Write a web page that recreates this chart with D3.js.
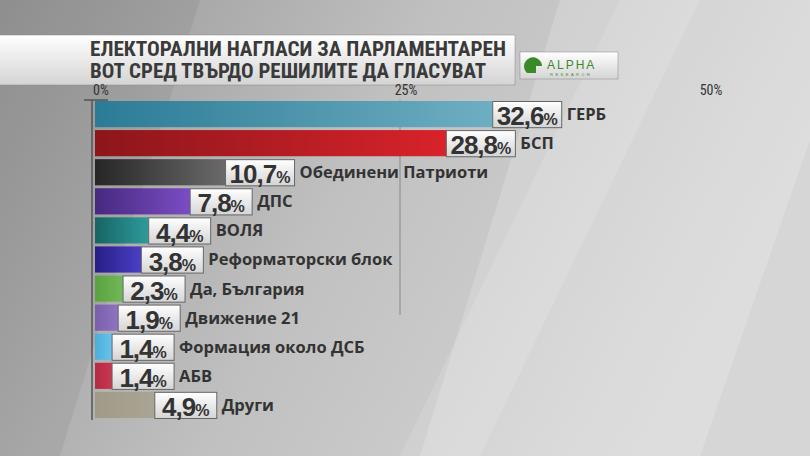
<!DOCTYPE html><html><head><meta charset="utf-8">
<script src="https://cdn.jsdelivr.net/npm/d3@7"></script>
<style>body{margin:0;overflow:hidden}</style></head><body>
<script>
const parties=["ГЕРБ","БСП","Обединени Патриоти","ДПС","ВОЛЯ","Реформаторски блок","Да, България","Движение 21","Формация около ДСБ","АБВ","Други"];
const values=[32.6,28.8,10.7,7.8,4.4,3.8,2.3,1.9,1.4,1.4,4.9];
const labels=["32,6","28,8","10,7","7,8","4,4","3,8","2,3","1,9","1,4","1,4","4,9"];
const colorsDark=["#2c7b96","#8c161b","#262626","#46297f","#176464","#271d86","#5aa140","#7a5eaa","#4aaedc","#b42a44","#a09a88"];
const colorsLight=["#6eaec2","#d8232a","#6a6a6a","#7c4cc4","#2f9a9a","#4a40c4","#72b85a","#8e74c2","#68c4ea","#cc3650","#aaa494"];
const ticks=[0,25,50];
const W=810,H=456;
const svg=d3.select("body").append("svg").attr("width",W).attr("height",H);
const defs=svg.append("defs");
const bg=defs.append("linearGradient").attr("id","bg").attr("x1",0).attr("x2",1).attr("y1",0).attr("y2",0.3);
bg.append("stop").attr("offset",0).attr("stop-color","#969696");
bg.append("stop").attr("offset",0.5).attr("stop-color","#c0c0c0");
bg.append("stop").attr("offset",1).attr("stop-color","#d6d6d6");
svg.append("rect").attr("width",W).attr("height",H).attr("fill","url(#bg)");
svg.append("path").attr("d","M560,0L810,0L810,140L700,456L420,456Z").attr("fill","#ffffff").attr("opacity",0.18);
svg.append("path").attr("d","M620,0L700,0L480,456L400,456Z").attr("fill","#ffffff").attr("opacity",0.12);
svg.append("path").attr("d","M0,0L200,0L60,456L0,456Z").attr("fill","#000").attr("opacity",0.05);

const x=d3.scaleLinear().domain([0,50]).range([95,705]);
const y=d3.scaleBand().domain(parties).range([101,418]).paddingInner(0.1);

const tg=defs.append("linearGradient").attr("id","tg").attr("x1",0).attr("x2",0).attr("y1",0).attr("y2",1);
tg.append("stop").attr("offset",0).attr("stop-color","#ffffff");
tg.append("stop").attr("offset",1).attr("stop-color","#d4d4d4");
svg.append("rect").attr("x",-2).attr("y",35).attr("width",517).attr("height",50).attr("fill","url(#tg)").attr("stroke","#888").attr("stroke-width",0.5);
const tt=svg.append("text").attr("font-family","Roboto Condensed, Liberation Sans Narrow, Arial Narrow, sans-serif").attr("font-weight","bold").attr("font-size",20).attr("fill","#3a3a3a");
tt.append("tspan").attr("x",90).attr("y",56).attr("textLength",416).attr("lengthAdjust","spacingAndGlyphs").text("ЕЛЕКТОРАЛНИ НАГЛАСИ ЗА ПАРЛАМЕНТАРЕН");
tt.append("tspan").attr("x",90).attr("y",78).attr("textLength",396).attr("lengthAdjust","spacingAndGlyphs").text("ВОТ СРЕД ТВЪРДО РЕШИЛИТЕ ДА ГЛАСУВАТ");
svg.append("rect").attr("x",520).attr("y",52).attr("width",98).attr("height",27).attr("fill","url(#tg)").attr("stroke","#888").attr("stroke-width",0.5);
svg.append("path").attr("d","M527,73 a9,9 0 1,1 15,-7 l-6,0 l0,7 z").attr("fill","#3a8a2a");
svg.append("text").attr("x",547).attr("y",69).attr("font-family","Liberation Sans, sans-serif").attr("font-size",12).attr("fill","#3a8a2a").attr("letter-spacing",2).text("ALPHA");
svg.append("text").attr("x",550).attr("y",76).attr("font-family","Liberation Sans, sans-serif").attr("font-size",4).attr("fill","#3a8a2a").attr("letter-spacing",2.5).text("RESEARCH");

svg.append("line").attr("x1",x(25)).attr("x2",x(25)).attr("y1",100).attr("y2",315).attr("stroke","#888").attr("stroke-width",1);
svg.append("line").attr("x1",92).attr("x2",92).attr("y1",100).attr("y2",420).attr("stroke","#555").attr("stroke-width",1.5);
svg.append("line").attr("x1",84).attr("x2",108).attr("y1",100).attr("y2",100).attr("stroke","#555").attr("stroke-width",1.5);
svg.selectAll(".tick").data(ticks).join("text").attr("x",d=>x(d)+6).attr("y",95)
 .attr("text-anchor","middle").attr("font-family","Roboto Condensed, Liberation Sans Narrow, sans-serif").attr("font-size",14).attr("fill","#333").text(d=>d+"%");

parties.forEach((p,i)=>{
  const g=defs.append("linearGradient").attr("id","b"+i);
  g.append("stop").attr("offset",0).attr("stop-color",colorsDark[i]);
  g.append("stop").attr("offset",1).attr("stop-color",colorsLight[i]);
});
const row=svg.selectAll(".row").data(parties).join("g").attr("transform",d=>`translate(0,${y(d)})`);
const h=y.bandwidth();
row.append("rect").attr("x",95).attr("width",(d,i)=>x(values[i])-95).attr("height",h).attr("fill",(d,i)=>`url(#b${i})`);
const bw=(d,i)=>labels[i].length>3?69:62;
row.append("rect").attr("x",(d,i)=>x(values[i])).attr("y",0.5).attr("width",bw).attr("height",h).attr("fill","url(#tg)").attr("stroke","#666").attr("stroke-width",1);
const nt=row.append("text").attr("x",(d,i)=>x(values[i])+bw(d,i)/2).attr("y",h-2).attr("text-anchor","middle")
 .attr("font-family","Liberation Sans Narrow, Arial Narrow, sans-serif").attr("font-weight","bold").attr("fill","#333");
nt.append("tspan").attr("font-size",26).attr("letter-spacing",-1).text((d,i)=>labels[i]);
nt.append("tspan").attr("font-size",16).text("%");
row.append("text").attr("x",(d,i)=>x(values[i])+bw(d,i)+5).attr("y",h/2+6).attr("font-family","Open Sans, sans-serif").attr("font-weight","bold").attr("font-size",16.5).attr("fill","#333").text(d=>d);
</script></body></html>
